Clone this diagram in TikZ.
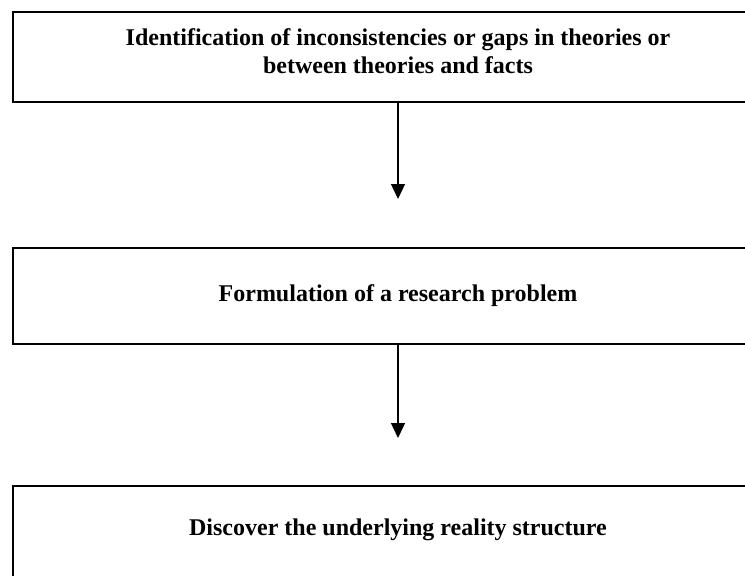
\documentclass[tikz,border=0pt]{standalone}
\usepackage{fontspec}
\setmainfont{Liberation Serif}
\usetikzlibrary{arrows.meta,positioning}
\begin{document}
\begin{tikzpicture}[x=1pt,y=1pt,
    stagebox/.style={draw, line width=1.3pt, minimum width=770pt, align=center,
        font=\bfseries\fontsize{24}{28}\selectfont, inner sep=0pt},
    flow/.style={line width=1.3pt, -{Triangle[width=14pt,length=15pt]}}]
\useasboundingbox (0,0) rectangle (745,-576);
\clip (0,0) rectangle (745,-576);

\node[stagebox, minimum height=90pt, text depth=12pt] (gaps) at (398,-57)
    {Identification of inconsistencies or gaps in theories or\\between theories and facts};
\node[stagebox, minimum height=96pt] (problem) at (398,-296) {Formulation of a research problem};
\node[stagebox, minimum height=100pt, text depth=17pt] (reality) at (398,-536) {Discover the underlying reality structure};

\coordinate (tipa) at (398,-199);
\coordinate (tipb) at (398,-438);
\draw[flow] (gaps) -- (tipa);
\draw[flow] (problem) -- (tipb);

\end{tikzpicture}
\end{document}
